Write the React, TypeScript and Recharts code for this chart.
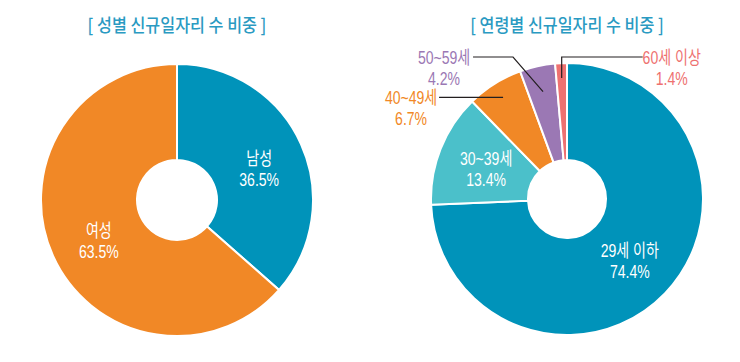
import { PieChart, Pie, Cell } from "recharts";

const genderNames = ["남성", "여성"];
const genderValues = [36.5, 63.5];

const ageNames = ["29세 이하", "30~39세", "40~49세", "50~59세", "60세 이상"];
const ageValues = [74.4, 13.4, 6.7, 4.2, 1.4];

const genderColors = ["#0093BA", "#F18826"];
const ageColors = ["#0093BA", "#4BC0CA", "#F18826", "#9B78B4", "#EE7170"];

const genderData = genderNames.map((name, i) => ({ name, value: genderValues[i] }));
const ageData = ageNames.map((name, i) => ({ name, value: ageValues[i] }));

const FONT = "'Noto Sans CJK KR', 'Noto Sans', sans-serif";
const LABEL_FONT = "'Liberation Sans', 'Noto Sans CJK KR', sans-serif";
const RAD = Math.PI / 180;
const SQUEEZE = 0.78;

function polar(cx: number, cy: number, r: number, angle: number) {
  return { x: cx + r * Math.cos(-angle * RAD), y: cy + r * Math.sin(-angle * RAD) };
}

function TwoLine({ x, y, top, bottom, color }: { x: number; y: number; top: string; bottom: string; color: string }) {
  return (
    <g transform={`translate(${x},${y}) scale(${SQUEEZE},1)`}>
      <text x={0} y={0} textAnchor="middle" fill={color} fontFamily={LABEL_FONT} fontSize={18}>
        <tspan x={0} dy={0}>{top}</tspan>
        <tspan x={0} dy={21}>{bottom}</tspan>
      </text>
    </g>
  );
}

const fmt = (v: number) => `${v.toFixed(1)}%`;

function renderGenderLabel(p: any) {
  const pt = polar(p.cx, p.cy, 88, p.midAngle);
  return <TwoLine key={p.index} x={pt.x + 2} y={pt.y + 1} top={p.name} bottom={fmt(p.value)} color="#fff" />;
}

// leader line layout for the small outer slices (index -> shape)
const outerLayout: Record<number, { r: number; elbowDx: number; elbowY: number | null; tailDx: number; textDx: number }> = {
  2: { r: 120, elbowDx: 0, elbowY: null, tailDx: -64, textDx: -28 },
  3: { r: 110, elbowDx: -30, elbowY: 57, tailDx: -40, textDx: -29 },
  4: { r: 121, elbowDx: 0, elbowY: 57, tailDx: 81, textDx: 29 },
};

function renderAgeLabel(p: any) {
  const lay = outerLayout[p.index];
  const color = ageColors[p.index];
  if (!lay) {
    const pt = polar(p.cx, p.cy, 87, p.midAngle);
    return <TwoLine key={p.index} x={pt.x} y={pt.y - 2} top={p.name} bottom={fmt(p.value)} color="#fff" />;
  }
  const a = polar(p.cx, p.cy, lay.r, p.midAngle);
  const elbow = { x: a.x + lay.elbowDx, y: lay.elbowY ?? a.y };
  const tail = { x: elbow.x + lay.tailDx, y: elbow.y };
  return (
    <g key={p.index}>
      <polyline
        points={`${a.x},${a.y} ${elbow.x},${elbow.y} ${tail.x},${tail.y}`}
        fill="none"
        stroke="#231F20"
        strokeWidth={1.2}
      />
      <TwoLine x={tail.x + lay.textDx} y={tail.y + 7} top={p.name} bottom={fmt(p.value)} color={color} />
    </g>
  );
}

const titleStyle: React.CSSProperties = {
  position: "absolute",
  top: 11,
  width: 260,
  textAlign: "center",
  color: "#2A9AC2",
  fontFamily: FONT,
  fontSize: 18,
  fontWeight: 500,
  lineHeight: "26px",
  transform: "scaleX(0.9)",
  whiteSpace: "pre",
};

export default function App() {
  return (
    <div style={{ position: "absolute", left: 0, top: 0, width: 740, height: 362, background: "#fff" }}>
      <div style={{ ...titleStyle, left: 177 - 130 }}>[ 성별 신규일자리 수 비중 ]</div>
      <div style={{ ...titleStyle, left: 567 - 130 }}>[ 연령별 신규일자리 수 비중 ]</div>
      <div style={{ position: "absolute", left: 0, top: 0 }}>
        <PieChart width={740} height={362} margin={{ top: 0, right: 0, bottom: 0, left: 0 }}>
          <Pie
            data={genderData}
            dataKey="value"
            nameKey="name"
            cx={177}
            cy={200}
            innerRadius={40}
            outerRadius={136}
            startAngle={90}
            endAngle={-270}
            stroke="#fff"
            strokeWidth={2}
            label={renderGenderLabel}
            labelLine={false}
            isAnimationActive={false}
          >
            {genderData.map((d, i) => (
              <Cell key={d.name} fill={genderColors[i]} />
            ))}
          </Pie>
          <Pie
            data={ageData}
            dataKey="value"
            nameKey="name"
            cx={567}
            cy={199}
            innerRadius={39}
            outerRadius={136}
            startAngle={90}
            endAngle={-270}
            stroke="#fff"
            strokeWidth={2}
            label={renderAgeLabel}
            labelLine={false}
            isAnimationActive={false}
          >
            {ageData.map((d, i) => (
              <Cell key={d.name} fill={ageColors[i]} />
            ))}
          </Pie>
        </PieChart>
      </div>
    </div>
  );
}
